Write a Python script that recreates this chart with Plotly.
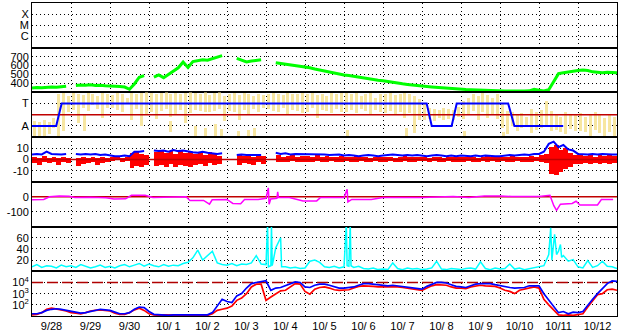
import plotly.graph_objects as go
from plotly.subplots import make_subplots

# ---------------- data ----------------
STEP = 0.125          # 3-hour sampling, time in days since 9/28 00:00
N_DAYS = 15
day_labels = ['9/28', '9/29', '9/30', '10/ 1', '10/ 2', '10/ 3', '10/ 4', '10/ 5',
              '10/ 6', '10/ 7', '10/ 8', '10/ 9', '10/10', '10/11', '10/12']

xray_levels = [1, 2, 3]
xray_labels = ['C', 'M', 'X']
xray_events = []      # no flares in this window

# solar wind speed (km/s)
speed = [350, 356, 352, 360, 362, 358, 368, 370,
         None, 378, 383, 379, 385, 377, 381, 375,
         372, 376, 366, 360, 335, 395, 470, 488,
         None, 470, 495, 465, 500, 540, 575, 640,
         580, 645, 652, 665, 660, 680, 692, 712,
         None, None, 680, 658, 640, 652, 660, 665,
         None, None, 633, 625, 615, 610, 600, 595,
         588, 575, 562, 550, 540, 526, 515, 505,
         496, 490, 480, 470, 462, 455, 445, 436,
         430, 420, 412, 405, 396, 390, 382, 376,
         370, 365, 360, 355, 350, 346, 341, 337,
         335, 332, 330, 327, 323, 322, 320, 318,
         316, 315, 316, 314, 314, 316, 318, 335,
         325, 316, 330, 420, 510, 520, 530, 540,
         545, 550, 545, 530, 525, 520, 525, 520,
         520]

# IMF angle scatter (streak low / high per 3-hour bin)
phi_hi = [-0.6, -0.8, -0.5, -0.7, -0.3, 1.8, 1.9, 1.6,
          1.9, 1.8, 1.7, 1.9, 1.8, 1.6, 1.9, 1.8,
          1.7, 1.9, 1.8, 1.5, 1.9, 1.8, 1.9, 2.0,
          1.9, 1.8, 1.9, 2.0, 1.8, 1.9, 1.8, 1.9,
          2.0, 1.9, 1.8, 2.0, 1.7, 1.9, 2.0, 1.6,
          1.8, 1.9, 1.7, 1.9, 1.8, 1.6, 1.8, 1.7,
          1.8, 1.9, 1.8, 1.7, 1.9, 1.8, 1.8, 1.9,
          1.8, 1.9, 1.7, 1.8, 1.6, 1.9, 1.8, 1.9,
          1.9, 1.8, 1.9, 1.6, 1.8, 1.9, 1.5, 1.8,
          1.8, 1.9, 1.7, 1.8, 1.9, 1.8, 1.6, 1.4,
          1.0, 0.6, 0.5, 0.4, 0.6, 0.5, 0.4, 0.7,
          1.2, 1.5, 1.8, 1.6, 1.9, 1.7, 1.5, 1.8,
          1.0, 0.3, 0.2, 0.0, 0.1, -0.2, 0.5, 0.2,
          0.4, 1.2, 0.3, 0.0, -0.2, 0.2, 0.0, -0.1,
          0.1, -0.2, 0.0, 0.2, -0.1, -0.3, 0.0, -0.2]
phi_lo = [-2.0, -1.9, -2.0, -1.8, -1.2, -2.0, -1.5, 0.2,
          0.4, -0.8, 0.6, 0.3, 0.8, 0.5, -0.3, 0.6,
          0.6, 0.4, 0.2, 0.9, -0.5, 0.5, 0.3, 0.0,
          0.2, -0.4, 0.3, 0.5, -0.2, 0.0, 0.4, -0.8,
          0.1, 0.4, 0.3, 0.2, 0.2, 0.3, 0.5, -0.6,
          0.3, 0.2, -0.5, 0.4, 0.0, 0.5, 0.2, 0.6,
          0.5, 0.3, 0.2, 0.6, 0.0, 0.4, 0.3, 0.1,
          0.2, 0.6, -0.3, 0.4, 0.3, 0.1, 0.5, 0.2,
          0.2, 0.4, 0.1, 0.5, 0.3, 0.0, 0.4, 0.2,
          0.1, 0.3, 0.0, 0.2, -0.3, 0.1, -1.7, -0.5,
          -0.5, -0.4, -0.6, -0.3, -0.5, -0.4, -0.5, -0.2,
          -0.4, -0.1, 0.3, -0.5, 0.2, -0.3, 0.0, -0.4,
          -1.2, -1.8, -1.0, -1.5, -1.2, -1.0, -1.7, -1.4,
          -1.2, -1.0, -1.5, -1.4, -1.6, -1.8, -1.3, -1.5,
          -1.5, -1.6, -1.9, -1.4, -1.7, -2.0, -1.6, -1.9]
phi_extra_t = [0.2, 1.35, 2.8, 3.55, 4.2, 4.45, 4.7, 4.85, 5.3, 5.55, 5.7, 8.1, 9.6, 11.1, 12.1]
phi_extra_lo = [-2.0, -1.5, -1.0, -1.6, -2.0, -2.0, -2.0, -2.0, -2.0, -2.0, -1.9, -2.0, -2.0, -2.0, -2.0]
phi_extra_hi = [-0.7, 0.0, 0.5, -0.6, -1.0, -1.2, -0.9, -1.3, -1.5, -1.4, -1.2, -1.4, -1.2, -1.5, -1.6]

# sector polarity (T = 1, A = -1)
sector_t = [0, 0.62, 0.76, 10.12, 10.25, 10.76, 10.89, 12.21, 12.37, 13.62]
sector_v = [-1, -1, 1, 1, -1, -1, 1, 1, -1, -1]

# IMF Bt (nT), 3-hour grid
bt = [4.5, 5, 4.5, 7, 5, 4.5, 4.5, 5,
      None, 5, 4.5, 5, 4.5, 5, 4, 4.5,
      3.5, 3, 3, 3.5, 3, 7, 7, 7.5,
      None, 8, 7.5, 8, 7, 8.5, 7.5, 8,
      7, 6.5, 6, 7, 6, 5.5, 5, 5.5,
      None, None, 4, 4.5, 4, 4, 4.5, 4,
      None, None, 6, 5, 5.5, 4.5, 5, 5,
      4.5, 5, 4.5, 5, 4.5, 4, 4, 4.5,
      3.5, 4, 3.5, 3, 3.5, 4, 3.5, 3,
      3.5, 4, 4.5, 4, 3.5, 4, 3.5, 4,
      3.5, 3, 3.5, 4, 3.5, 3, 3.5, 3,
      3.5, 3, 3, 3.5, 3, 3.5, 3, 3,
      3, 3.5, 4, 3.5, 4, 4.5, 4, 5,
      5, 7, 14, 16, 11, 13, 9, 8,
      5, 4.5, 4.5, 5, 4.5, 5, 4.5, 4.5,
      4.5]
# IMF Bz range (nT) per 3-hour bin
bz_hi = [2, 1.5, 3, 1, 2.5, 1.5, 2, 1,
         None, 1, 2, 1.5, 2.5, 1, 2, 1.5,
         2, 2.5, 1.5, 2, 6, 7, 5, 4,
         None, 7, 8, 6, 7.5, 5, 8, 6,
         7, 5, 6.5, 4, 7, 5, 3, None,
         None, None, 4, 3, 4.5, 2.5, 4, 3,
         None, None, 3.5, 2.5, 3, 4, 2.5, 3,
         3, 2, 3.5, 2.5, 3, 2, 2.5, 3,
         2.5, 2, 3, 2, 2.5, 1.5, 2, 2.5,
         2, 2.5, 1.5, 2, 3, 2, 2.5, 2,
         2, 1.5, 2.5, 2, 1.5, 2, 2.5, 2,
         2, 2.5, 2, 1.5, 2, 3, 2, 2.5,
         2.5, 2, 3, 2, 2.5, 2, 3, 2.5,
         4, 5, 11, 13, 8, 10, 6, 4,
         3.5, 3, 4, 2.5, 3.5, 3, 4, 3]
bz_lo = [-3, -5, -2, -3.5, -2, -5, -2.5, -3,
         None, -5.5, -4, -3, -2, -5, -3, -2.5,
         -1.5, -1, -2, -1.5, -8, -6, -7, -5,
         None, -6, -5, -7, -4, -6.5, -5, -6,
         -6.5, -5, -4, -6, -3, -5, -4, None,
         None, None, -5, -3, -4, -5, -2, -4,
         None, None, -2.5, -2, -2.7, -1.5, -2.5, -2,
         -2.5, -2, -1.5, -2.7, -2, -1.5, -2.5, -2,
         -1.5, -2.5, -2, -1.5, -2.7, -2, -1.5, -2,
         -2, -1.5, -2.5, -2, -1.5, -2.7, -2, -1.5,
         -1.5, -2, -1.5, -2.5, -2, -1.5, -2, -2.5,
         -2, -1.5, -2, -2.5, -1.5, -2, -1.5, -2,
         -1.5, -2.5, -2, -1.5, -2, -2.5, -2, -1.5,
         -2, -3, -13, -14, -11, -9, -7, -4,
         -4, -3, -4.4, -3, -4, -3.5, -4, -3]

# Dst index (nT)
dst_t = [0.0, 0.3, 0.45, 0.7, 0.95, 1.1, 1.5, 1.9, 2.1, 2.4, 2.55, 2.9, 3.1, 3.5, 3.6, 3.95,
         4.05, 4.4, 4.55, 4.62, 5.0, 5.15, 5.35, 5.45, 5.8, 6.0, 6.06, 6.08, 6.12, 6.28, 6.3,
         6.32, 6.6, 6.95, 7.3, 7.4, 8.0, 8.08, 8.1, 8.2, 8.7, 9.0, 10.0, 10.3, 10.8, 11.2,
         11.6, 12.0, 12.3, 13.0, 13.2, 13.28, 13.38, 13.45, 13.55, 13.85, 13.95, 14.05,
         14.5, 14.6, 14.9]
dst_v = [-20, -18, 0, 5, 3, -5, -3, -6, -15, -14, 10, 10, -5, -3, 0, 0,
         -25, -25, -50, -20, -18, -45, -47, -18, -18, -10, 60, -50, -15, -10, 33,
         -5, -5, -28, -28, -5, -5, 50, -35, -18, -18, -5, -5, -2, 2, -5,
         5, 5, 2, 2, 5, 10, -60, -91, -50, -45, -30, -55,
         -55, -18, -18]

# proton density (cyan)
density = [8, 12, 7, 10, 9, 6, 11, 8,
           10, 7, 12, 9, 6, 8, 11, 7,
           9, 6, 10, 12, 8, 11, 14, 9,
           13, 10, 8, 12, 9, 11, 10, 14,
           16, 24, 38, 20, 28, 36, 15, 12,
           11, 14, 10, 13, 12, 15, 28, 13,
           12, 10, 42, 60, 8, 6, 7, 5,
           6, 18, 20, 16, 8, 7, 9, 6,
           8, 9, 7, 9, 5, 4, 6, 3,
           4, 3, 15, 5, 3, 6, 4, 5,
           3, 4, 6, 18, 4, 3, 5, 4,
           3, 5, 6, 4, 17, 5, 3, 6,
           4, 5, 13, 4, 6, 3, 5, 7,
           9, 10, 30, 50, 36, 28, 18, 21,
           8, 6, 19, 7, 10, 18, 9, 8,
           5]
density_spike_t = [6.04, 6.06, 6.14, 6.16, 6.4, 8.06, 8.08, 8.16, 8.18, 13.3, 13.33, 13.4, 13.45, 13.55, 13.58]
density_spike_v = [85, 8, 85, 10, 8, 85, 10, 85, 10, 78, 20, 66, 30, 48, 25]

# electron flux (log10 values)
elec_blue_log = [1.2, 1.2, 1.3, 1.5, 1.6, 1.65, 1.6, 1.5,
                 1.4, 1.3, 1.25, 1.3, 1.4, 1.55, 1.6, 1.55,
                 1.5, 1.35, 1.2, 1.2, 1.3, 1.6, 1.8, 1.75,
                 1.4, 1.15, 1.1, 1.1, 1.05, 1.1, 1.1, 1.05,
                 1.1, 1.05, 1.1, 1.1, 1.1, 1.3, 1.9, 2.5,
                 2.3, 2.2, 2.8, 3.0, 3.5, 3.9, 4.0, 4.05,
                 4.15, 3.3, 3.5, 3.55, 3.7, 3.9, 4.05, 4.0,
                 3.6, 3.55, 3.75, 3.85, 3.85, 3.75, 3.6, 3.5,
                 3.5, 3.55, 3.6, 3.75, 3.9, 3.9, 3.85, 3.8,
                 3.7, 3.7, 3.75, 3.7, 3.65, 3.6, 3.55, 3.45,
                 3.4, 3.65, 3.85, 4.0, 4.0, 3.95, 3.8, 3.65,
                 3.6, 3.55, 3.7, 3.85, 3.9, 3.9, 3.9, 3.8,
                 3.7, 3.6, 3.55, 3.5, 3.5, 3.55, 3.7, 3.7,
                 3.7, 3.0, 2.4, 1.8, 1.3, 1.4, 1.2, 1.35,
                 1.3, 1.4, 2.0, 2.5, 3.0, 3.5, 3.9, 4.15,
                 4.1]
elec_red_log = [1.1, 1.15, 1.3, 1.6, 1.7, 1.65, 1.55, 1.45,
                1.3, 1.25, 1.2, 1.3, 1.45, 1.5, 1.55, 1.5,
                1.45, 1.25, 1.15, 1.15, 1.3, 1.55, 1.7, 1.5,
                1.2, 1.1, 1.05, 1.1, 1.1, 1.05, 1.1, 1.1,
                1.05, 1.1, 1.05, 1.1, 1.05, 1.2, 1.5, 1.6,
                1.7, 1.9, 2.4, 2.6, 3.0, 3.6, 3.85, 3.85,
                2.4, 2.7, 3.0, 3.25, 3.3, 3.6, 3.9, 3.85,
                3.2, 2.95, 3.4, 3.55, 3.6, 3.5, 3.35, 3.3,
                3.3, 3.35, 3.5, 3.65, 3.7, 3.7, 3.65, 3.6,
                3.6, 3.6, 3.65, 3.6, 3.55, 3.5, 3.4, 3.35,
                3.3, 3.5, 3.7, 3.8, 3.8, 3.75, 3.6, 3.5,
                3.5, 3.45, 3.6, 3.7, 3.75, 3.7, 3.7, 3.65,
                3.5, 3.3, 3.2, 3.0, 3.3, 3.4, 3.5, 3.6,
                3.5, 2.5, 2.0, 1.5, 1.1, 1.05, 1.1, 1.05,
                1.1, 1.2, 1.8, 2.3, 2.9, 3.0, 3.35, 3.4,
                3.3]
flux_threshold = 1e4
zero_ref = 0

# ---------------- build ----------------
grid_t = [i * STEP for i in range(len(speed))]
bin_c = [i * STEP + STEP / 2 for i in range(len(bz_hi))]
span = [0, N_DAYS]

fig = make_subplots(rows=7, cols=1, shared_xaxes=True, vertical_spacing=0)

# panel 1: x-ray flare classes (empty)
fig.add_trace(go.Scatter(x=span, y=[None, None] if not xray_events else xray_events,
                         mode='lines', line=dict(color='black', width=1)), row=1, col=1)

# panel 2: speed
fig.add_trace(go.Scatter(x=grid_t, y=speed, mode='lines',
                         line=dict(color='#00FF00', width=3)), row=2, col=1)

# panel 3: angle scatter as floating streaks, zero line, sector
ph_x = bin_c + phi_extra_t
ph_lo = phi_lo + phi_extra_lo
ph_hi = phi_hi + phi_extra_hi
fig.add_trace(go.Bar(x=ph_x, y=[h - l for h, l in zip(ph_hi, ph_lo)], base=ph_lo,
                     width=STEP * 0.6, marker=dict(color='#F7E6A1', line=dict(width=0))),
              row=3, col=1)
fig.add_trace(go.Scatter(x=span, y=[zero_ref, zero_ref], mode='lines',
                         line=dict(color='#C00000', width=1.5)), row=3, col=1)
fig.add_trace(go.Scatter(x=sector_t, y=sector_v, mode='lines',
                         line=dict(color='#0000FF', width=2)), row=3, col=1)

# panel 4: IMF
fig.add_trace(go.Bar(x=bin_c,
                     y=[None if h is None else h - l for h, l in zip(bz_hi, bz_lo)],
                     base=[0 if l is None else l for l in bz_lo],
                     width=STEP, marker=dict(color='#FF0000', line=dict(width=0))),
              row=4, col=1)
fig.add_trace(go.Scatter(x=span, y=[zero_ref, zero_ref], mode='lines',
                         line=dict(color='#C00000', width=1.5)), row=4, col=1)
fig.add_trace(go.Scatter(x=grid_t, y=bt, mode='lines',
                         line=dict(color='#0000FF', width=2)), row=4, col=1)

# panel 5: Dst
fig.add_trace(go.Scatter(x=span, y=[zero_ref, zero_ref], mode='lines',
                         line=dict(color='#C00000', width=1.5)), row=5, col=1)
fig.add_trace(go.Scatter(x=dst_t, y=dst_v, mode='lines',
                         line=dict(color='#FF00FF', width=1.5)), row=5, col=1)

# panel 6: density
pairs = sorted(list(zip(grid_t, density)) + list(zip(density_spike_t, density_spike_v)))
fig.add_trace(go.Scatter(x=[p[0] for p in pairs], y=[p[1] for p in pairs], mode='lines',
                         line=dict(color='#00FFFF', width=1.5)), row=6, col=1)

# panel 7: electrons
fig.add_trace(go.Scatter(x=span, y=[flux_threshold, flux_threshold], mode='lines',
                         line=dict(color='#B00000', width=1.5, dash='11px,4px')), row=7, col=1)
fig.add_trace(go.Scatter(x=grid_t, y=[10 ** v for v in elec_red_log], mode='lines',
                         line=dict(color='#FF0000', width=1.7)), row=7, col=1)
fig.add_trace(go.Scatter(x=grid_t, y=[10 ** v for v in elec_blue_log], mode='lines',
                         line=dict(color='#0000FF', width=1.7)), row=7, col=1)

# ---------------- axes ----------------
dot = '1px,3px'
yspecs = {
    1: dict(range=[0, 4], tickvals=xray_levels, ticktext=xray_labels),
    2: dict(range=[300, 800], tickvals=[400, 500, 600, 700], ticktext=['400', '500', '600', '700']),
    3: dict(range=[-2, 2], tickvals=[1, -1], ticktext=['T', 'A']),
    4: dict(range=[-20, 20], tickvals=[10, 0, -10], ticktext=['10', '0', '-10']),
    5: dict(range=[-200, 100], tickvals=[0, -100], ticktext=['0', '-100']),
    6: dict(range=[0, 80], tickvals=[20, 40, 60], ticktext=['20', '40', '60']),
    7: dict(type='log', range=[1, 5], tickvals=[1e2, 1e3, 1e4],
            ticktext=['10<sup>2</sup>', '10<sup>3</sup>', '10<sup>4</sup>']),
}
for r, spec in yspecs.items():
    fig.update_yaxes(row=r, col=1, showgrid=True, gridcolor='black', griddash=dot, gridwidth=1,
                     showline=True, linecolor='black', linewidth=1, mirror=True,
                     zeroline=False, ticks='', fixedrange=True, **spec)
    fig.update_xaxes(row=r, col=1, range=span, showline=True, linecolor='black', linewidth=1,
                     mirror=True, zeroline=False, showgrid=False, ticks='',
                     tickvals=[d + 0.5 for d in range(N_DAYS)], ticktext=day_labels,
                     minor=dict(tickmode='linear', tick0=0, dtick=1, showgrid=True,
                                gridcolor='black', griddash=dot, gridwidth=1, ticks=''))

fig.update_layout(
    width=628, height=334,
    margin=dict(l=32, r=11, t=2, b=17),
    paper_bgcolor='white', plot_bgcolor='white',
    showlegend=False, bargap=0,
    font=dict(family='Liberation Sans, Arial, sans-serif', size=11, color='black'),
)

fig.write_html('out.html')
